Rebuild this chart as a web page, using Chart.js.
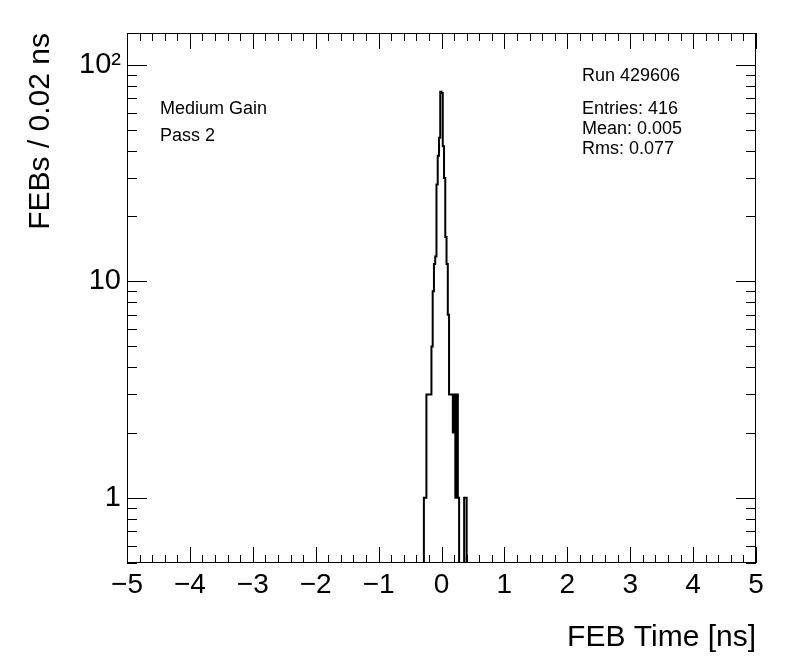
<!DOCTYPE html>
<html>
<head>
<meta charset="utf-8">
<script src="https://cdn.jsdelivr.net/npm/chart.js@4/dist/chart.umd.min.js"></script>
<style>
  html, body { margin: 0; padding: 0; background: #fff; }
  #wrap { width: 796px; height: 672px; }
</style>
</head>
<body>
<div id="wrap"><canvas id="febChart" width="796" height="672"></canvas></div>
<script>
// FEB time histogram, 0.02 ns bins (only the filled region, rest is empty)
const binLowEdges = [-0.28, -0.26, -0.24, -0.22, -0.20, -0.18, -0.16, -0.14, -0.12, -0.10,
  -0.08, -0.06, -0.04, -0.02, 0.00, 0.02, 0.04, 0.06, 0.08, 0.10,
  0.12, 0.14, 0.16, 0.18, 0.20, 0.22, 0.24, 0.26, 0.28, 0.30,
  0.32, 0.34, 0.36, 0.38];
const binCounts = [1, 1, 3, 3, 3, 3, 5, 9, 12, 13,
  28, 38, 46, 75, 74, 42, 30, 16, 12, 7,
  3, 3, 3, 2, 3, 1, 3, 1, 0, 0,
  0, 0, 1, 1];
const binWidth = 0.02;

const xRange = [-5, 5];
const yRange = [0.5, 140];
const xTickValues = [-5, -4, -3, -2, -1, 0, 1, 2, 3, 4, 5];
const yTickValues = [1, 10, 100];
const yTickLabels = ['1', '10', '10\u00B2'];

const runLabel = 'Run 429606';
const statsLines = ['Entries: 416', 'Mean: 0.005', 'Rms: 0.077'];
const infoLines = ['Medium Gain', 'Pass 2'];

const FONT = "'Liberation Sans', Arial, Helvetica, sans-serif";

// ROOT-like step outline: empty bins sit on the bottom of the log axis
function histPoints() {
  const floor = yRange[0];
  const pts = [{ x: xRange[0], y: floor }];
  binLowEdges.forEach((lo, i) => {
    pts.push({ x: lo, y: binCounts[i] > 0 ? binCounts[i] : floor });
  });
  pts.push({ x: binLowEdges[binLowEdges.length - 1] + binWidth, y: floor });
  pts.push({ x: xRange[1], y: floor });
  return pts;
}

// frame + inward ticks on all four sides, and the text boxes
const rootFrame = {
  id: 'rootFrame',
  afterDraw(chart) {
    const { ctx, chartArea: a, scales: { x, y } } = chart;
    ctx.save();
    ctx.strokeStyle = '#000';
    ctx.lineWidth = 1;
    ctx.beginPath();
    for (let k = -25; k <= 25; k++) {
      const px = Math.round(x.getPixelForValue(k * 0.2)) + 0.5;
      const len = k % 5 === 0 ? 16 : 8;
      ctx.moveTo(px, a.bottom); ctx.lineTo(px, a.bottom - len);
      ctx.moveTo(px, a.top); ctx.lineTo(px, a.top + len);
    }
    for (let d = -1; d <= 2; d++) {
      for (let m = 1; m <= 9; m++) {
        const v = m * Math.pow(10, d);
        if (v < yRange[0] || v > yRange[1]) continue;
        const py = Math.round(y.getPixelForValue(v)) + 0.5;
        const len = m === 1 ? 20 : 10;
        ctx.moveTo(a.left, py); ctx.lineTo(a.left + len, py);
        ctx.moveTo(a.right, py); ctx.lineTo(a.right - len, py);
      }
    }
    ctx.stroke();
    ctx.strokeRect(a.left + 0.5, a.top + 0.5, a.width - 1, a.height - 1);

    ctx.fillStyle = '#000';
    ctx.font = '18px ' + FONT;
    ctx.textAlign = 'left';
    ctx.textBaseline = 'alphabetic';
    ctx.fillText(infoLines[0], 160, 114);
    ctx.fillText(infoLines[1], 160, 141);
    ctx.fillText(runLabel, 582, 81);
    ctx.fillText(statsLines[0], 582, 114);
    ctx.fillText(statsLines[1], 582, 134);
    ctx.fillText(statsLines[2], 582, 154);
    ctx.restore();
  }
};

new Chart(document.getElementById('febChart'), {
  type: 'line',
  data: {
    datasets: [{
      data: histPoints(),
      borderColor: '#000',
      borderWidth: 2,
      stepped: 'before',
      pointRadius: 0,
      fill: false,
      tension: 0,
    }],
  },
  options: {
    responsive: false,
    animation: false,
    events: [],
    layout: { padding: { top: 33, right: 40, left: 0, bottom: 0 } },
    plugins: { legend: { display: false }, tooltip: { enabled: false } },
    scales: {
      x: {
        type: 'linear',
        min: xRange[0], max: xRange[1],
        afterBuildTicks: s => { s.ticks = xTickValues.map(v => ({ value: v })); },
        afterFit: s => { s.height = 109; },
        grid: { display: false, drawTicks: false },
        border: { display: false },
        ticks: {
          autoSkip: false, maxRotation: 0, padding: 5, color: '#000',
          font: { family: FONT, size: 28 },
          callback: v => (v < 0 ? '\u2212' + Math.abs(v) : String(v)),
        },
        title: {
          display: true, text: 'FEB Time [ns]', align: 'end', color: '#000',
          font: { family: FONT, size: 30 }, padding: { top: 0, bottom: 16 },
        },
      },
      y: {
        type: 'logarithmic',
        min: yRange[0], max: yRange[1],
        afterBuildTicks: s => { s.ticks = yTickValues.map(v => ({ value: v })); },
        afterFit: s => { s.width = 127; },
        grid: { display: false, drawTicks: false },
        border: { display: false },
        ticks: {
          autoSkip: false, padding: 6, color: '#000',
          font: { family: FONT, size: 29 },
          callback: (v, i) => yTickLabels[i],
        },
        title: {
          display: true, text: 'FEBs / 0.02 ns', align: 'end', color: '#000',
          font: { family: FONT, size: 30 }, padding: { top: 23, bottom: 0 },
        },
      },
    },
  },
  plugins: [rootFrame],
});
</script>
</body>
</html>
